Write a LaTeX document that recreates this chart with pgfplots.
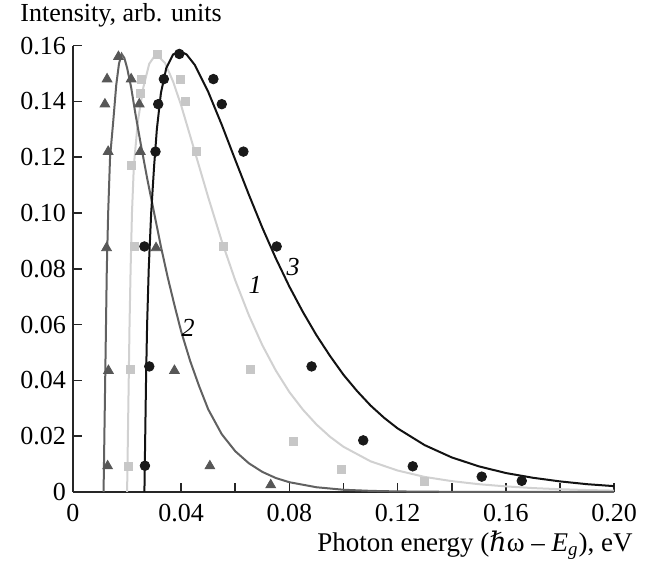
\documentclass[border=0pt]{standalone}
\usepackage{fontspec}
\setmainfont{Liberation Serif}
\newfontfamily\symfont{DejaVu Serif}
\usepackage{pgfplots}
\pgfplotsset{compat=1.18}
\definecolor{cOne}{gray}{0.82}
\definecolor{cTwo}{gray}{0.38}
\definecolor{cThree}{gray}{0.07}

\begin{document}
\begin{tikzpicture}
\path[use as bounding box] (-36.5pt,-36.5pt) rectangle (287.5pt,246pt);
\begin{axis}[
  at={(0,0)}, anchor=south west,
  scale only axis, width=270.5pt, height=223.2pt,
  xmin=0, xmax=0.2, ymin=0, ymax=0.16,
  axis lines=left,
  axis line style={-, line width=0.8pt, black!85},
  tick align=inside,
  major tick length=4.5pt,
  tick style={line width=0.8pt, black!85},
  xtick={0,0.02,0.04,0.06,0.08,0.10,0.12,0.14,0.16,0.18,0.20},
  xticklabels={0,,0.04,,0.08,,0.12,,0.16,,0.20},
  ytick={0,0.02,0.04,0.06,0.08,0.10,0.12,0.14,0.16},
  yticklabels={0,0.02,0.04,0.06,0.08,0.10,0.12,0.14,0.16},
  /pgf/number format/assume math mode=true,
  tick label style={font=\fontsize{13}{15}\selectfont, black},
  xticklabel style={yshift=-5pt, inner sep=1pt},
  every axis x label/.style={at={(axis description cs:1.035,-0.119)}, anchor=east,
    inner sep=0pt, font=\fontsize{13.5}{15}\selectfont},
  every axis y label/.style={at={(axis description cs:-0.098,1.069)}, anchor=west,
    inner sep=0pt, font=\fontsize{13}{15}\selectfont},
  xlabel={Photon energy ({\symfont ℏ}ω~–~\textit{E}\textsubscript{\textit{g}}), eV},
  ylabel={Intensity, arb. units},
  clip=false,
]
% curve 1 (light gray)
\addplot[cOne, line width=1pt] coordinates {
(0.0200,0)(0.0203,0.02)(0.0206,0.04)(0.0209,0.06)(0.0213,0.08)(0.0218,0.10)
(0.0225,0.117)(0.0240,0.133)(0.0260,0.145)(0.0282,0.1535)(0.0307,0.157)
(0.034,0.1538)(0.037,0.1471)(0.040,0.1385)(0.045,0.1221)(0.050,0.1056)
(0.055,0.0899)(0.060,0.0758)(0.065,0.0634)(0.070,0.0526)(0.075,0.0435)
(0.080,0.0358)(0.085,0.0295)(0.090,0.0242)(0.095,0.0198)(0.100,0.0162)
(0.110,0.0110)(0.120,0.0077)(0.130,0.0054)(0.140,0.0039)(0.150,0.0028)
(0.160,0.0020)(0.170,0.0014)(0.180,0.0010)(0.190,0.0007)(0.200,0.0005)
};
% curve 2 (dark gray)
\addplot[cTwo, line width=1pt] coordinates {
(0.0113,0)(0.0116,0.02)(0.0119,0.04)(0.0122,0.06)(0.0125,0.08)(0.0130,0.10)
(0.0137,0.12)(0.0148,0.132)(0.0160,0.146)(0.0170,0.1535)(0.0180,0.157)
(0.0190,0.1555)(0.0200,0.152)(0.0215,0.145)(0.0230,0.136)(0.0250,0.125)
(0.0275,0.112)(0.0300,0.100)(0.0325,0.088)(0.0350,0.077)(0.0375,0.067)
(0.0400,0.0575)(0.0433,0.047)(0.0466,0.038)(0.0500,0.0296)(0.055,0.0207)
(0.060,0.0146)(0.065,0.0103)(0.070,0.0072)(0.075,0.0050)(0.080,0.0035)
(0.090,0.0017)(0.100,0.0008)(0.110,0.0004)(0.120,0.0002)(0.140,0.00005)(0.200,0)
};
% curve 3 (black)
\addplot[cThree, line width=1pt] coordinates {
(0.0264,0)(0.0267,0.02)(0.0270,0.04)(0.0274,0.06)(0.0280,0.08)(0.0289,0.10)
(0.0300,0.117)(0.0310,0.130)(0.0325,0.143)(0.0345,0.152)(0.0370,0.1568)
(0.0395,0.158)(0.0420,0.1568)(0.045,0.1531)(0.050,0.1434)(0.055,0.1316)
(0.060,0.1190)(0.065,0.1066)(0.070,0.0947)(0.075,0.0837)(0.080,0.0736)
(0.085,0.0645)(0.090,0.0562)(0.095,0.0488)(0.100,0.0420)(0.105,0.0362)
(0.110,0.0310)(0.115,0.0266)(0.120,0.0228)(0.130,0.0168)(0.140,0.0124)
(0.150,0.0092)(0.160,0.0068)(0.170,0.0051)(0.180,0.0038)(0.190,0.0028)(0.200,0.0021)
};
% measured points
\addplot[only marks, mark=square*, mark size=2pt, color=cOne!95!black] coordinates {
(0.0205,0.009)(0.0213,0.044)(0.0226,0.088)(0.0217,0.117)(0.0248,0.143)
(0.0254,0.148)(0.0312,0.157)(0.0396,0.148)(0.0416,0.140)(0.0457,0.122)
(0.0556,0.088)(0.0656,0.044)(0.0814,0.018)(0.0993,0.008)(0.1299,0.0038)
};
\addplot[only marks, mark=triangle*, mark size=2.8pt, color=cTwo!90!black] coordinates {
(0.0128,0.0093)(0.0131,0.0435)(0.0124,0.0875)(0.0130,0.122)(0.0118,0.139)
(0.0126,0.148)(0.0168,0.156)(0.0215,0.148)(0.0245,0.139)(0.0249,0.122)
(0.0307,0.0875)(0.0375,0.0435)(0.0506,0.0093)(0.0731,0.0025)
};
\addplot[only marks, mark=*, mark size=2.4pt, color=black!90] coordinates {
(0.0266,0.0094)(0.0282,0.045)(0.0264,0.088)(0.0305,0.122)(0.0315,0.139)
(0.0336,0.148)(0.0393,0.157)(0.0519,0.148)(0.0550,0.139)(0.0630,0.122)
(0.0753,0.088)(0.0882,0.045)(0.1073,0.0185)(0.1256,0.0092)(0.1511,0.0055)
(0.1659,0.0040)
};
\node[font=\fontsize{13}{15}\selectfont\itshape] at (axis cs:0.0673,0.0742) {1};
\node[font=\fontsize{13}{15}\selectfont\itshape] at (axis cs:0.0426,0.0588) {2};
\node[font=\fontsize{13}{15}\selectfont\itshape] at (axis cs:0.0814,0.0808) {3};
\end{axis}
\end{tikzpicture}
\end{document}
